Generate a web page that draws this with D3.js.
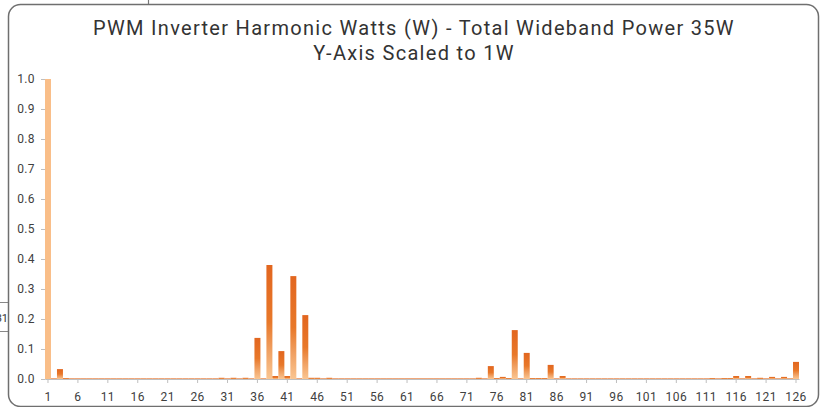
<!DOCTYPE html>
<html>
<head>
<meta charset="utf-8">
<script src="https://cdn.jsdelivr.net/npm/d3@7"></script>
<style>
  body { margin: 0; background: #fff; }
  svg { display: block; }
  .axis text { font-family: Roboto, "DejaVu Sans", sans-serif; font-size: 12px; letter-spacing: 0.4px; fill: #404040; }
  .axis path, .axis line { stroke: #bfbfbf; }
</style>
</head>
<body>
<svg id="chart" width="826" height="407"></svg>
<script>
var titleLines = ["PWM Inverter Harmonic Watts (W) - Total Wideband Power 35W", "Y-Axis Scaled to 1W"]

// harmonic number 1..126
var harmonics = d3.range(1, 127)

// watts per harmonic
var watts = [
  1.000, 0.002, 0.033, 0.003, 0.002, 0.002, 0.002, 0.002, 0.002, 0.002,
  0.002, 0.002, 0.002, 0.002, 0.002, 0.002, 0.002, 0.002, 0.002, 0.002,
  0.002, 0.002, 0.002, 0.002, 0.002, 0.002, 0.002, 0.002, 0.002, 0.004,
  0.002, 0.004, 0.002, 0.004, 0.002, 0.137, 0.002, 0.380, 0.010, 0.093,
  0.010, 0.343, 0.002, 0.213, 0.004, 0.004, 0.002, 0.004, 0.002, 0.002,
  0.002, 0.002, 0.002, 0.002, 0.002, 0.002, 0.002, 0.002, 0.002, 0.002,
  0.002, 0.002, 0.002, 0.002, 0.002, 0.002, 0.002, 0.002, 0.002, 0.002,
  0.002, 0.002, 0.004, 0.002, 0.043, 0.003, 0.007, 0.003, 0.163, 0.002,
  0.087, 0.003, 0.003, 0.003, 0.047, 0.002, 0.010, 0.002, 0.002, 0.002,
  0.002, 0.002, 0.002, 0.002, 0.002, 0.002, 0.002, 0.002, 0.002, 0.002,
  0.002, 0.002, 0.002, 0.002, 0.002, 0.002, 0.002, 0.002, 0.002, 0.002,
  0.002, 0.003, 0.002, 0.003, 0.003, 0.010, 0.002, 0.010, 0.002, 0.004,
  0.002, 0.007, 0.002, 0.007, 0.002, 0.057
]

var yTicks = [0, 0.1, 0.2, 0.3, 0.4, 0.5, 0.6, 0.7, 0.8, 0.9, 1.0]

var svg = d3.select("#chart")

// bits of neighbouring page elements that show at the edges
svg.append("line").attr("x1", 148.5).attr("x2", 148.5).attr("y1", 0).attr("y2", 5)
   .attr("stroke", "#777").attr("stroke-width", 1.2)
svg.append("path").attr("d", "M0,302.5H8.5M0,331.5H8.5")
   .attr("stroke", "#888").attr("fill", "none")
svg.append("text").attr("x", 8).attr("y", 322).attr("text-anchor", "end")
   .style("font-family", "Roboto, sans-serif").style("font-size", "11px").attr("fill", "#333")
   .text("31")

// chart frame
svg.append("rect")
   .attr("x", 8.5).attr("y", 4.5).attr("width", 810).attr("height", 402)
   .attr("rx", 12).attr("ry", 12)
   .attr("fill", "#fff").attr("stroke", "#6f6f6f").attr("stroke-width", 1.5)

var grad = svg.append("defs").append("linearGradient")
   .attr("id", "barfill").attr("x1", 0).attr("y1", 0).attr("x2", 0).attr("y2", 1)
grad.append("stop").attr("offset", "0%").attr("stop-color", "#e2661f")
grad.append("stop").attr("offset", "50%").attr("stop-color", "#e8782a")
grad.append("stop").attr("offset", "75%").attr("stop-color", "#f0a062")
grad.append("stop").attr("offset", "100%").attr("stop-color", "#fac591")

svg.selectAll(".title").data(titleLines).enter().append("text")
   .attr("class", "title")
   .attr("x", 414).attr("y", function (d, i) { return 35 + i * 25 })
   .attr("text-anchor", "middle")
   .style("font-family", "Roboto, sans-serif").style("font-size", "20px")
   .style("letter-spacing", "1.3px")
   .attr("fill", "#333")
   .text(function (d) { return d })

var x = d3.scaleBand().domain(harmonics).range([45, 799]).padding(0)
var y = d3.scaleLinear().domain([0, 1]).range([379, 79])

svg.append("g").attr("class", "axis")
   .attr("transform", "translate(45,0)")
   .call(d3.axisLeft(y).tickValues(yTicks).tickFormat(d3.format(".1f")).tickSize(4).tickSizeOuter(0).tickPadding(6))

svg.selectAll(".bar").data(watts).enter().append("rect")
   .attr("class", "bar")
   .attr("x", function (d, i) { return x(harmonics[i]) })
   .attr("width", x.bandwidth())
   .attr("y", function (d) { return y(d) })
   .attr("height", function (d) { return y(0) - y(d) })
   .attr("fill", function (d, i) { return i == 0 ? "#f9be88" : "url(#barfill)" })

var xAxis = svg.append("g").attr("class", "axis")
   .attr("transform", "translate(0," + y(0) + ")")
   .call(d3.axisBottom(x)
     .tickValues(harmonics.filter(function (h) { return (h - 1) % 5 == 0 }))
     .tickSize(4).tickSizeOuter(0).tickPadding(9))
</script>
</body>
</html>
